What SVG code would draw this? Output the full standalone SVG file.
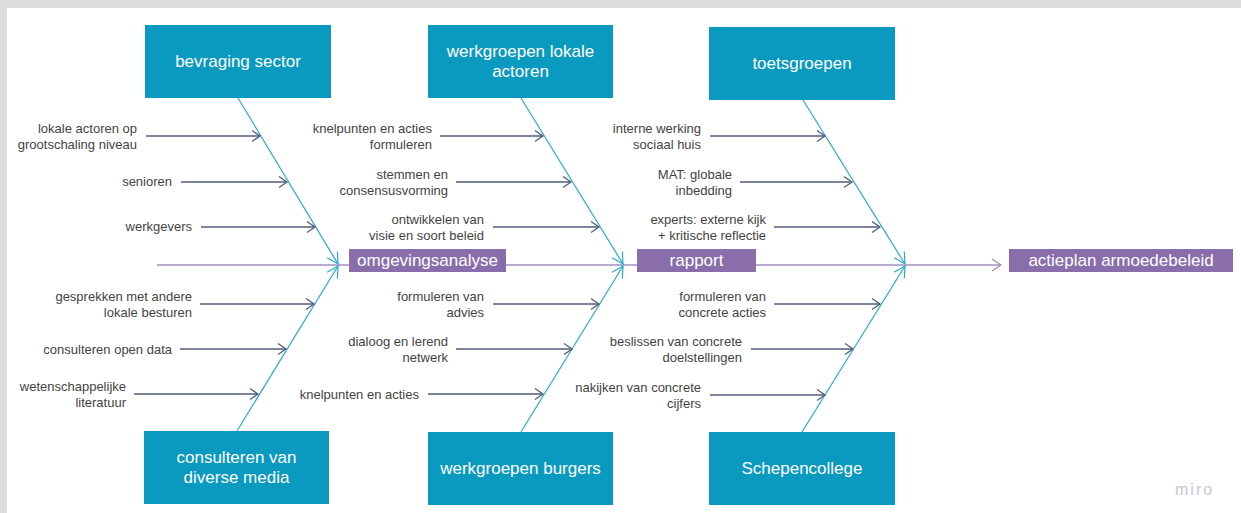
<svg xmlns="http://www.w3.org/2000/svg" width="1241" height="513" viewBox="0 0 1241 513">
<style>
.bg{fill:#ffffff}
.frame{fill:#dcdcdc}
.box{fill:#0a99bf}
.box-t{font-family:"Liberation Sans",Arial,sans-serif;font-size:17px;fill:#ffffff;text-anchor:middle}
.tag{fill:#8a6dab}
.tag-t{font-family:"Liberation Sans",Arial,sans-serif;font-size:17px;fill:#ffffff;text-anchor:middle}
.lbl{font-family:"Liberation Sans",Arial,sans-serif;font-size:13px;fill:#434343;text-anchor:end}
.bone{stroke:#2aa8d0;stroke-width:1.2;fill:none}
.sub{stroke:#535c7a;stroke-width:1.3;fill:none}
.spine{stroke:#a390c2;stroke-width:1.3;fill:none}
.miro{font-family:"Liberation Sans",Arial,sans-serif;font-size:16px;fill:#c9c6d8;letter-spacing:2px}
</style>
<defs>
<marker id="mBone" markerUnits="userSpaceOnUse" markerWidth="14" markerHeight="14" refX="12" refY="7" orient="auto">
<path d="M1,1 L12,7 L1,13" fill="none" stroke="#2aa8d0" stroke-width="1.2"/>
</marker>
<marker id="mSub" markerUnits="userSpaceOnUse" markerWidth="12" markerHeight="14" refX="9" refY="7" orient="auto">
<path d="M1,1.5 L9,7 L1,12.5" fill="none" stroke="#535c7a" stroke-width="1.3"/>
</marker>
<marker id="mSpine" markerUnits="userSpaceOnUse" markerWidth="12" markerHeight="14" refX="10" refY="7" orient="auto">
<path d="M1,1 L10,7 L1,13" fill="none" stroke="#a390c2" stroke-width="1.3"/>
</marker>
</defs>
<rect class="bg" x="0" y="0" width="1241" height="513"/>
<rect class="frame" x="0" y="0" width="1241" height="8"/>
<rect class="frame" x="0" y="0" width="7" height="513"/>

<g id="connectors">
<line class="spine" x1="157" y1="265" x2="1001" y2="265" marker-end="url(#mSpine)"/>
<line class="bone" x1="238" y1="98" x2="338" y2="264" marker-end="url(#mBone)"/>
<line class="bone" x1="237" y1="431" x2="338" y2="266" marker-end="url(#mBone)"/>
<line class="bone" x1="521" y1="98" x2="623" y2="264" marker-end="url(#mBone)"/>
<line class="bone" x1="521" y1="432" x2="623" y2="266" marker-end="url(#mBone)"/>
<line class="bone" x1="803" y1="100" x2="905" y2="264" marker-end="url(#mBone)"/>
<line class="bone" x1="802" y1="432" x2="905" y2="266" marker-end="url(#mBone)"/>

<line class="sub" x1="146" y1="136" x2="260" y2="136" marker-end="url(#mSub)"/>
<line class="sub" x1="181" y1="182" x2="287" y2="182" marker-end="url(#mSub)"/>
<line class="sub" x1="201" y1="227" x2="315" y2="227" marker-end="url(#mSub)"/>
<line class="sub" x1="200" y1="304" x2="314" y2="304" marker-end="url(#mSub)"/>
<line class="sub" x1="180" y1="349" x2="286" y2="349" marker-end="url(#mSub)"/>
<line class="sub" x1="134" y1="394" x2="258" y2="394" marker-end="url(#mSub)"/>

<line class="sub" x1="440" y1="136" x2="543" y2="136" marker-end="url(#mSub)"/>
<line class="sub" x1="456" y1="182" x2="571" y2="182" marker-end="url(#mSub)"/>
<line class="sub" x1="493" y1="227" x2="599" y2="227" marker-end="url(#mSub)"/>
<line class="sub" x1="493" y1="304" x2="599" y2="304" marker-end="url(#mSub)"/>
<line class="sub" x1="456" y1="349" x2="572" y2="349" marker-end="url(#mSub)"/>
<line class="sub" x1="428" y1="394" x2="543" y2="394" marker-end="url(#mSub)"/>

<line class="sub" x1="710" y1="136" x2="825" y2="136" marker-end="url(#mSub)"/>
<line class="sub" x1="740" y1="182" x2="852" y2="182" marker-end="url(#mSub)"/>
<line class="sub" x1="774" y1="227" x2="880" y2="227" marker-end="url(#mSub)"/>
<line class="sub" x1="774" y1="304" x2="880" y2="304" marker-end="url(#mSub)"/>
<line class="sub" x1="751" y1="349" x2="853" y2="349" marker-end="url(#mSub)"/>
<line class="sub" x1="710" y1="395" x2="825" y2="395" marker-end="url(#mSub)"/>
</g>

<g id="bevraging-sector">
<rect class="box" x="145" y="25" width="186" height="73"/>
<text class="box-t" x="238" y="67">bevraging sector</text>
</g>
<g id="werkgroepen-lokale-actoren">
<rect class="box" x="428" y="25" width="185" height="73"/>
<text class="box-t" x="520.5" y="57">werkgroepen lokale</text>
<text class="box-t" x="520.5" y="77">actoren</text>
</g>
<g id="toetsgroepen">
<rect class="box" x="709" y="27" width="186" height="73"/>
<text class="box-t" x="802" y="69">toetsgroepen</text>
</g>
<g id="consulteren-van-diverse-media">
<rect class="box" x="144" y="431" width="185" height="73"/>
<text class="box-t" x="236.5" y="463">consulteren van</text>
<text class="box-t" x="236.5" y="483">diverse media</text>
</g>
<g id="werkgroepen-burgers">
<rect class="box" x="428" y="432" width="185" height="73"/>
<text class="box-t" x="520.5" y="474">werkgroepen burgers</text>
</g>
<g id="schepencollege">
<rect class="box" x="709" y="432" width="186" height="73"/>
<text class="box-t" x="802" y="474">Schepencollege</text>
</g>

<g id="omgevingsanalyse">
<rect class="tag" x="349" y="249" width="157" height="23"/>
<text class="tag-t" x="427.5" y="266">omgevingsanalyse</text>
</g>
<g id="rapport">
<rect class="tag" x="637" y="249" width="119" height="23"/>
<text class="tag-t" x="696.5" y="266">rapport</text>
</g>
<g id="actieplan-armoedebeleid">
<rect class="tag" x="1009" y="249" width="224" height="23"/>
<text class="tag-t" x="1121" y="266">actieplan armoedebeleid</text>
</g>

<g id="labels">
<text class="lbl" x="137" y="132.5">lokale actoren op</text>
<text class="lbl" x="137" y="148.5">grootschaling niveau</text>
<text class="lbl" x="172" y="186">senioren</text>
<text class="lbl" x="192" y="231">werkgevers</text>
<text class="lbl" x="192" y="301">gesprekken met andere</text>
<text class="lbl" x="192" y="317">lokale besturen</text>
<text class="lbl" x="172" y="353.5">consulteren open data</text>
<text class="lbl" x="126" y="391">wetenschappelijke</text>
<text class="lbl" x="126" y="407">literatuur</text>

<text class="lbl" x="432" y="132.5">knelpunten en acties</text>
<text class="lbl" x="432" y="148.5">formuleren</text>
<text class="lbl" x="448" y="178.5">stemmen en</text>
<text class="lbl" x="448" y="194.5">consensusvorming</text>
<text class="lbl" x="484" y="223.5">ontwikkelen van</text>
<text class="lbl" x="484" y="239.5">visie en soort beleid</text>
<text class="lbl" x="484" y="301">formuleren van</text>
<text class="lbl" x="484" y="317">advies</text>
<text class="lbl" x="448" y="346">dialoog en lerend</text>
<text class="lbl" x="448" y="362">netwerk</text>
<text class="lbl" x="419" y="399">knelpunten en acties</text>

<text class="lbl" x="701" y="132.5">interne werking</text>
<text class="lbl" x="701" y="148.5">sociaal huis</text>
<text class="lbl" x="732" y="178.5">MAT: globale</text>
<text class="lbl" x="732" y="194.5">inbedding</text>
<text class="lbl" x="766" y="223.5">experts: externe kijk</text>
<text class="lbl" x="766" y="239.5">+ kritische reflectie</text>
<text class="lbl" x="766" y="301">formuleren van</text>
<text class="lbl" x="766" y="317">concrete acties</text>
<text class="lbl" x="742" y="346">beslissen van concrete</text>
<text class="lbl" x="742" y="362">doelstellingen</text>
<text class="lbl" x="701" y="392">nakijken van concrete</text>
<text class="lbl" x="701" y="408">cijfers</text>
</g>
<text class="miro" x="1175" y="495">miro</text>
</svg>
